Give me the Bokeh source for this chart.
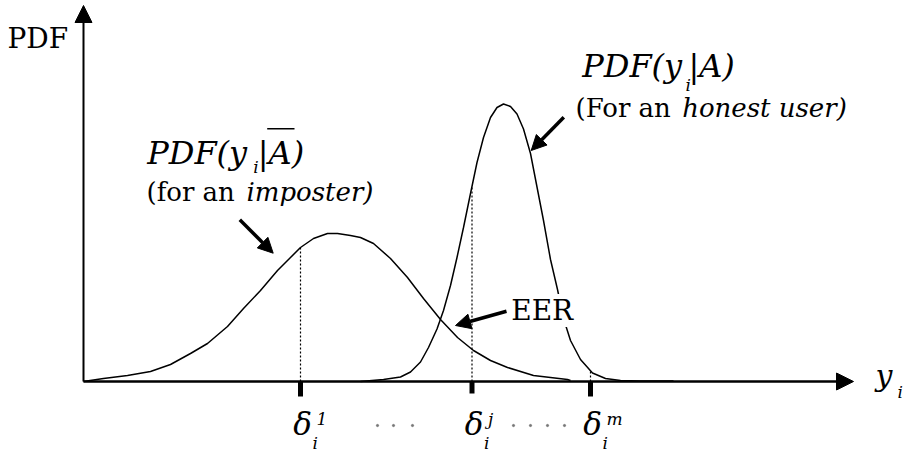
import numpy as np
from bokeh.plotting import figure
from bokeh.models import Arrow, NormalHead, Range1d
from bokeh.core.properties import value
from bokeh.embed import file_html
from bokeh.resources import INLINE

# Score distribution of an impostor: y_i value and probability density
imposter_x = [0.0, 2.0, 4.4, 6.7, 8.7, 10.7, 12.4, 14.4, 16.0, 17.7, 19.4, 20.7,
              21.7, 23.0, 24.4, 25.4, 26.7, 27.7, 29.0, 30.7, 32.4, 34.0, 35.7,
              37.4, 39.0, 40.7, 42.4, 45.0, 48.4, 48.7]
imposter_pdf = [0.0, 0.03, 0.06, 0.10, 0.17, 0.28, 0.38, 0.55, 0.73, 0.91, 1.11,
                1.24, 1.34, 1.43, 1.48, 1.48, 1.46, 1.44, 1.38, 1.23, 1.04, 0.83,
                0.62, 0.44, 0.31, 0.21, 0.14, 0.06, 0.02, 0.01]

# Score distribution of the honest user
honest_x = [27.7, 30.0, 31.7, 32.7, 33.7, 34.5, 35.35, 36.0, 36.7, 37.35, 38.0,
            38.7, 39.35, 40.0, 40.7, 41.35, 42.0, 42.7, 43.35, 44.0, 44.7, 45.35,
            46.0, 46.7, 47.4, 48.0, 48.7, 49.7, 50.9, 52.2, 53.7, 55.7, 59.0]
honest_pdf = [0.0, 0.02, 0.045, 0.095, 0.195, 0.34, 0.525, 0.71, 0.96, 1.24, 1.54,
              1.88, 2.19, 2.44, 2.64, 2.74, 2.775, 2.75, 2.675, 2.525, 2.28, 1.945,
              1.61, 1.22, 0.92, 0.63, 0.41, 0.22, 0.085, 0.03, 0.01, 0.005, 0.005]

# Decision thresholds delta_i^1 ... delta_i^j ... delta_i^m
thresholds = [21.7, 38.85, 50.7]
threshold_sup = ["1", "j", "m"]
ellipsis_x = [29.4, 31.0, 32.9, 43.0, 44.7, 46.4, 48.1]

SERIF = value("DejaVu Serif")
PX = 0.01  # data units per screen pixel on the vertical scale


def lift(size):
    # raise text so that its glyph baseline lands on the given y
    return 0.36 * size * PX


def label(x, y, s, size, italic=False, **kw):
    p.text(x=[x], y=[y + lift(size)], text=[s], text_font=SERIF,
           text_font_size=f"{size}px",
           text_font_style="italic" if italic else "normal",
           text_baseline="alphabetic", **kw)


p = figure(width=911, height=454, output_backend="svg", toolbar_location=None,
           x_axis_location=None, y_axis_location=None,
           x_range=Range1d(-8.3, 82.8), y_range=Range1d(-0.73, 3.81),
           min_border=0, outline_line_color=None)
p.grid.visible = False
p.background_fill_color = "white"
p.border_fill_color = "white"

# density curves
p.line(imposter_x, imposter_pdf, line_color="black", line_width=1.5)
p.line(honest_x, honest_pdf, line_color="black", line_width=1.5)

# axes drawn as arrows
p.add_layout(Arrow(end=NormalHead(size=17, fill_color="black", line_color="black"),
                   x_start=0, y_start=0, x_end=77.0, y_end=0, line_width=2.5))
p.add_layout(Arrow(end=NormalHead(size=17, fill_color="black", line_color="black"),
                   x_start=0, y_start=0, x_end=0, y_end=3.76, line_width=2))

# thresholds: dotted drop lines and heavy ticks
curve_for = [(imposter_x, imposter_pdf), (honest_x, honest_pdf), (honest_x, honest_pdf)]
tops = [float(np.interp(t, cx, cy)) for t, (cx, cy) in zip(thresholds, curve_for)]
p.segment(x0=thresholds, y0=[0] * 3, x1=thresholds, y1=tops,
          line_color="black", line_width=1.2, line_dash="2 2")
p.segment(x0=thresholds, y0=[0] * 3, x1=thresholds, y1=[-0.15, -0.12, -0.15],
          line_color="black", line_width=5)

# threshold labels: delta with subscript i and superscript index
p.text(x=thresholds, y=[-0.54 + lift(31)] * 3, text=["δ"] * 3, text_font=SERIF,
       text_font_size="31px", text_font_style="italic", text_align="center",
       text_baseline="alphabetic", x_offset=2)
p.text(x=thresholds, y=[-0.44 + lift(17)] * 3, text=threshold_sup, text_font=SERIF,
       text_font_size="17px", text_font_style="italic", text_align="left",
       text_baseline="alphabetic", x_offset=16)
p.text(x=thresholds, y=[-0.68 + lift(17)] * 3, text=["i"] * 3, text_font=SERIF,
       text_font_size="17px", text_font_style="italic", text_align="left",
       text_baseline="alphabetic", x_offset=12)
p.scatter(ellipsis_x, [-0.44] * len(ellipsis_x), size=2.2, color="#777777")

# axis titles
label(-7.6, 3.33, "PDF", 28)
label(79.2, -0.05, "y", 30, italic=True)
label(81.4, -0.17, "i", 17, italic=True)

# impostor label
label(6.37, 2.17, "PDF(y", 32, italic=True)
label(16.97, 2.08, "i", 17, italic=True)
label(17.43, 2.17, "|A)", 32, italic=True)
p.segment(x0=[18.37], y0=[2.527], x1=[21.1], y1=[2.527], line_color="black",
          line_width=1.5)
label(6.3, 1.803, "(for an ", 26)
label(16.3, 1.803, "imposter)", 26, italic=True)

# honest-user label
label(49.87, 3.04, "PDF(y", 32, italic=True)
label(60.2, 2.90, "i", 17, italic=True)
label(60.49, 3.04, "|A)", 32, italic=True)
label(49.2, 2.637, "(For an ", 26)
label(59.87, 2.637, "honest user)", 26, italic=True)

# EER label
label(42.77, 0.61, "EER", 28, background_fill_color="white")

# pointer arrows
for xs, ys, xe, ye in [(15.63, 1.617, 18.97, 1.283),
                       (48.03, 2.643, 44.77, 2.31),
                       (42.3, 0.703, 37.2, 0.56)]:
    p.add_layout(Arrow(end=NormalHead(size=15, fill_color="black", line_color="black"),
                       x_start=xs, y_start=ys, x_end=xe, y_end=ye, line_width=3.5))

open("out.html", "w").write(file_html(p, INLINE))
